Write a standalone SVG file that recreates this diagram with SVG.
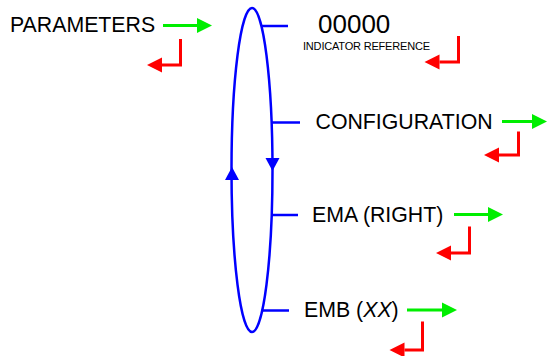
<svg xmlns="http://www.w3.org/2000/svg" width="547" height="356" viewBox="0 0 547 356">
<defs>
<style>
text{font-family:"Liberation Sans",Arial,sans-serif;fill:#000}
.lbl{font-size:21.3px}
.g{stroke:#00ee00;stroke-width:3;fill:none}
.r{stroke:#ff0000;stroke-width:3;fill:none}
.b{stroke:#0000ff;stroke-width:2.5;fill:none}
</style>
<marker id="ag" markerUnits="userSpaceOnUse" markerWidth="16" markerHeight="16" refX="0" refY="7.5" orient="auto" overflow="visible"><path d="M0,0 L15,7.5 L0,15 z" fill="#00ee00"/></marker>
<marker id="ar" markerUnits="userSpaceOnUse" markerWidth="16" markerHeight="16" refX="0" refY="7.5" orient="auto" overflow="visible"><path d="M0,0 L15,7.5 L0,15 z" fill="#ff0000"/></marker>
</defs>
<g id="connectors">
<ellipse class="b" cx="252" cy="170" rx="20.5" ry="162"/>
<polygon points="232,167 225,180 239,180" fill="#0000ff"/>
<polygon points="272.5,171 265.5,158 279.5,158" fill="#0000ff"/>
<path class="b" d="M261,26 H288"/>
<path class="b" d="M272,122.5 H300"/>
<path class="b" d="M272,215 H298"/>
<path class="b" d="M262,310.5 H289"/>
<path class="g" d="M163,25.5 H197" marker-end="url(#ag)"/>
<path class="r" d="M180.5,39 V65 H162" marker-end="url(#ar)"/>
<path class="r" d="M458.5,36 V62 H439.5" marker-end="url(#ar)"/>
<path class="g" d="M502,121.5 H532" marker-end="url(#ag)"/>
<path class="r" d="M518.5,131.5 V155 H499" marker-end="url(#ar)"/>
<path class="g" d="M454,214.5 H488" marker-end="url(#ag)"/>
<path class="r" d="M469.5,226.5 V253 H451" marker-end="url(#ar)"/>
<path class="g" d="M407,310 H442" marker-end="url(#ag)"/>
<path class="r" d="M422.5,321.5 V350 H404.5" marker-end="url(#ar)"/>
</g>
<g id="parameters"><text class="lbl" x="10" y="32">PARAMETERS</text></g>
<g id="indicator">
<text x="318" y="33.3" style="font-size:26px">00000</text>
<text x="303" y="50" style="font-size:11px" textLength="127" lengthAdjust="spacing">INDICATOR REFERENCE</text>
</g>
<g id="configuration"><text class="lbl" x="315.5" y="129.3">CONFIGURATION</text></g>
<g id="ema"><text class="lbl" x="312" y="221.7">EMA (RIGHT)</text></g>
<g id="emb"><text class="lbl" x="304" y="317">EMB (<tspan font-style="italic">XX</tspan>)</text></g>
</svg>
